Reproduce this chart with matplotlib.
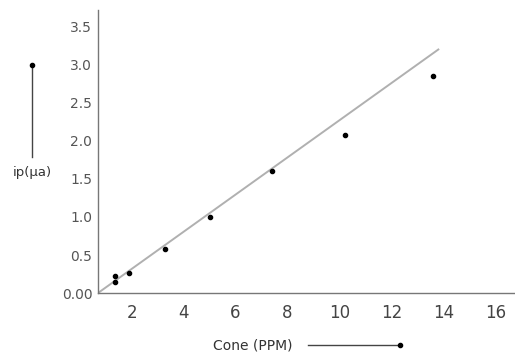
import matplotlib
matplotlib.use("Agg")
import matplotlib.pyplot as plt
from matplotlib.lines import Line2D

# calibration data
conc = [1.35, 1.35, 1.9, 3.3, 5.0, 7.4, 10.2, 13.6]
ip = [0.14, 0.22, 0.26, 0.58, 1.0, 1.6, 2.08, 2.85]

# straight calibration line
line_x = [0.7, 13.8]
line_y = [0.0, 3.2]

xticks = [2, 4, 6, 8, 10, 12, 14, 16]
yticks = [0.0, 0.5, 1.0, 1.5, 2.0, 2.5, 3.0, 3.5]
ytick_labels = ["0.00", "0.5", "1.0", "1.5", "2.0", "2.5", "3.0", "3.5"]

fig = plt.figure(figsize=(5.15, 3.54), dpi=100)
ax = fig.add_axes([0.190, 0.172, 0.81, 0.80])

ax.plot(line_x, line_y, color="#b0b0b0", lw=1.4, zorder=2)
ax.scatter(conc, ip, s=9, color="black", zorder=3)

ax.set_xlim(0.7, 16.75)
ax.set_ylim(0, 3.72)

ax.set_xticks(xticks)
ax.set_xticklabels([str(t) for t in xticks])
ax.set_yticks(yticks)
ax.set_yticklabels(ytick_labels)
ax.tick_params(axis="x", length=0, pad=8, labelsize=12, labelcolor="#444444")
ax.tick_params(axis="y", length=0, pad=4, labelsize=10, labelcolor="#555555")

for side in ("top", "right"):
    ax.spines[side].set_visible(False)
for side in ("left", "bottom"):
    ax.spines[side].set_color("#777777")
    ax.spines[side].set_linewidth(1.0)

# axis labels with hand-drawn style arrows
fig.text(0.062, 0.514, "ip(μa)", fontsize=9.5, color="#333333",
         ha="center", va="center")
fig.add_artist(Line2D([0.062, 0.062], [0.556, 0.816], color="#444444", lw=1.0))
fig.add_artist(Line2D([0.062], [0.816], marker="o", markersize=3, color="black"))

fig.text(0.491, 0.025, "Cone (PPM)", fontsize=10, color="#333333",
         ha="center", va="center")
fig.add_artist(Line2D([0.598, 0.777], [0.025, 0.025], color="#444444", lw=1.0))
fig.add_artist(Line2D([0.777], [0.025], marker="o", markersize=3, color="black"))

fig.savefig("out.png", dpi=100)
